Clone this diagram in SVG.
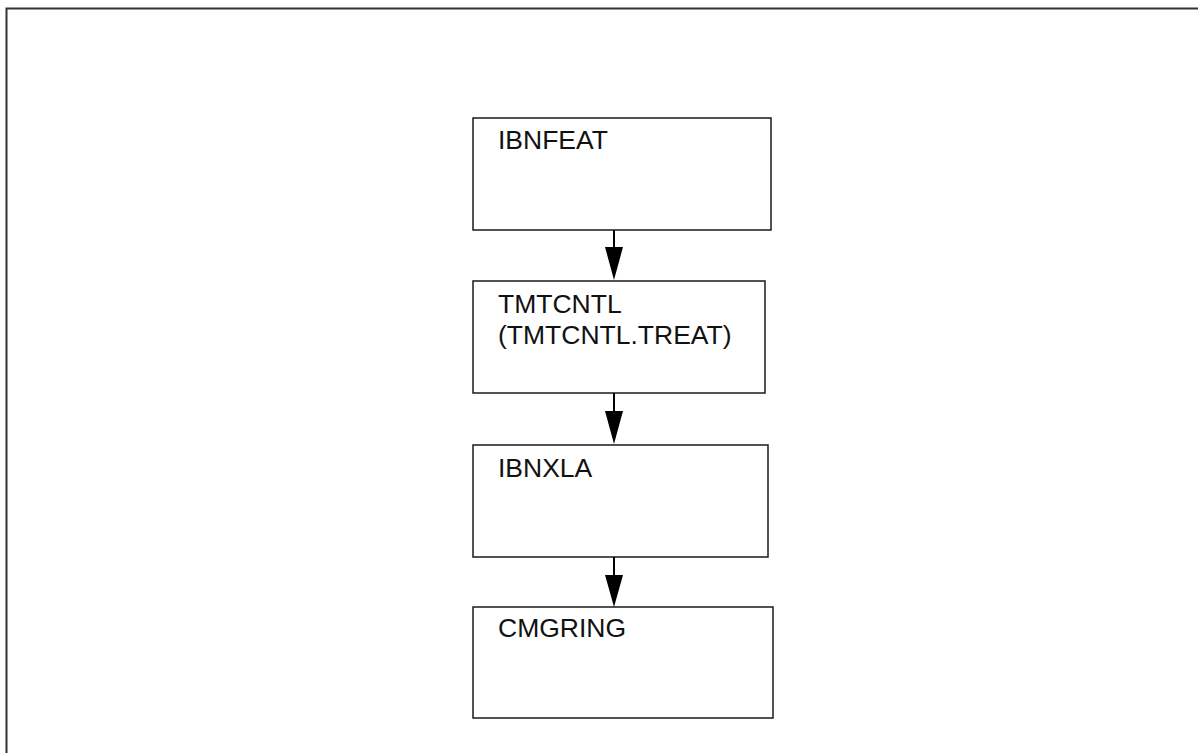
<svg xmlns="http://www.w3.org/2000/svg" width="1198" height="753" viewBox="0 0 1198 753">
<style>
.box{fill:#fff;stroke:#1a1a1a;stroke-width:1.5}
.lbl{font-family:"Liberation Sans",Arial,sans-serif;font-size:26.5px;fill:#111}
.con{stroke:#000;stroke-width:2;fill:none}
.frame{stroke:#333;stroke-width:2;fill:none}
</style>
<rect width="1198" height="753" fill="#fff"/>
<path class="frame" d="M6.5,753 V8.5 H1198"/>
<g id="node-ibnfeat">
<rect class="box" x="473" y="118" width="298" height="112"/>
<text class="lbl" x="498" y="149">IBNFEAT</text>
</g>
<g id="node-tmtcntl">
<rect class="box" x="473" y="281" width="292" height="112"/>
<text class="lbl" x="498" y="313">TMTCNTL</text>
<text class="lbl" x="498" y="344">(TMTCNTL.TREAT)</text>
</g>
<g id="node-ibnxla">
<rect class="box" x="473" y="445" width="295" height="112"/>
<text class="lbl" x="498" y="477">IBNXLA</text>
</g>
<g id="node-cmgring">
<rect class="box" x="473" y="607" width="300" height="111"/>
<text class="lbl" x="498" y="637">CMGRING</text>
</g>
<g id="connectors">
<path d="M614,230 V248" class="con"/>
<path d="M605,247 L623,247 L614,280 Z" fill="#000"/>
<path d="M614,393 V412" class="con"/>
<path d="M605,411 L623,411 L614,444 Z" fill="#000"/>
<path d="M614,557 V576" class="con"/>
<path d="M605,575 L623,575 L614,607 Z" fill="#000"/>
</g>
</svg>
